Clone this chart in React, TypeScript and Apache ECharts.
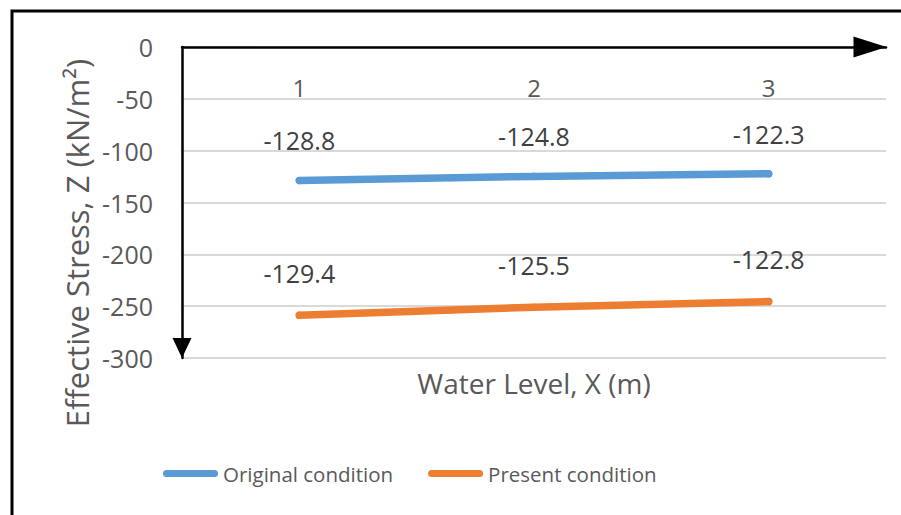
import React, { useEffect, useRef } from "react";
import * as echarts from "echarts";

const categories = ["1", "2", "3"];
const originalValues = [-128.8, -124.8, -122.3];
const presentLabels = [-129.4, -125.5, -122.8];
const presentPlotted = [-258.8, -251.0, -245.6];
const yMin = -300;
const yMax = 0;
const yInterval = 50;
const xTitle = "Water Level, X (m)";
const yTitle = "Effective Stress, Z (kN/m²)";

const FONT = "Open Sans";
const GREY = "#595959";
const DARK = "#404040";

export default function App() {
  const ref = useRef<HTMLDivElement>(null);
  useEffect(() => {
    if (!ref.current) return;
    const chart = echarts.init(ref.current, null, { renderer: "svg" });
    const capsule =
      "path://M3.5,0 H51.5 A3.5,3.5 0 0 1 51.5,7 H3.5 A3.5,3.5 0 0 1 3.5,0 Z";
    chart.setOption({
      animation: false,
      backgroundColor: "#ffffff",
      textStyle: { fontFamily: FONT },
      grid: { left: 182, top: 47, right: 15, bottom: 157 },
      legend: {
        left: 163,
        top: 463,
        padding: 0,
        itemWidth: 55,
        itemHeight: 7,
        itemGap: 35,
        textStyle: { fontFamily: FONT, fontSize: 20.5, color: GREY },
        data: [
          { name: "Original condition", icon: capsule },
          { name: "Present condition", icon: capsule },
        ],
      },
      graphic: [
        {
          type: "rect",
          shape: { x: 12, y: 11, width: 1000, height: 700 },
          style: { fill: "none", stroke: "#000", lineWidth: 3 },
          silent: true,
        },
        {
          type: "text",
          x: 77,
          y: 243,
          rotation: Math.PI / 2,
          silent: true,
          style: {
            text: yTitle,
            fontFamily: FONT,
            fontSize: 31,
            fill: GREY,
            align: "center",
            verticalAlign: "middle",
          },
        },
      ],
      xAxis: [
        {
          type: "category",
          data: categories,
          position: "top",
          boundaryGap: true,
          axisLine: {
            show: true,
            lineStyle: { color: "#000", width: 2.5 },
            symbol: ["none", "triangle"],
            symbolSize: [21, 33],
            symbolOffset: [0, -16],
          },
          axisTick: { show: false },
          axisLabel: {
            inside: true,
            margin: 28,
            fontFamily: FONT,
            fontSize: 24,
            color: GREY,
          },
          splitLine: { show: false },
        },
        {
          type: "category",
          data: categories,
          position: "bottom",
          axisLine: { show: false },
          axisTick: { show: false },
          axisLabel: { show: false },
          splitLine: { show: false },
          name: xTitle,
          nameLocation: "middle",
          nameGap: 11,
          nameTextStyle: { fontFamily: FONT, fontSize: 28, color: GREY },
        },
      ],
      yAxis: {
        type: "value",
        min: yMin,
        max: yMax,
        interval: yInterval,
        axisLine: {
          show: true,
          lineStyle: { color: "#000", width: 2.5 },
          symbol: ["triangle", "none"],
          symbolSize: [19, 20],
          symbolOffset: [10, 0],
        },
        axisTick: { show: false },
        axisLabel: {
          margin: 29,
          fontFamily: FONT,
          fontSize: 25,
          color: GREY,
        },
        splitLine: { show: true, lineStyle: { color: "#d9d9d9", width: 2 } },
      },
      series: [
        {
          name: "Original condition",
          type: "line",
          data: originalValues,
          color: "#5B9BD5",
          symbol: "circle",
          symbolSize: 7.5,
          lineStyle: { width: 7.5, cap: "round" },
          label: {
            show: true,
            position: "top",
            distance: 24,
            fontFamily: FONT,
            fontSize: 25,
            color: DARK,
          },
        },
        {
          name: "Present condition",
          type: "line",
          data: presentPlotted,
          color: "#ED7D31",
          symbol: "circle",
          symbolSize: 7.5,
          lineStyle: { width: 7.5, cap: "round" },
          label: {
            show: true,
            position: "top",
            distance: 26,
            fontFamily: FONT,
            fontSize: 25,
            color: DARK,
            formatter: (p: any) => String(presentLabels[p.dataIndex]),
          },
        },
      ],
    });
    return () => chart.dispose();
  }, []);
  return (
    <div
      ref={ref}
      style={{ position: "fixed", left: 0, top: 0, width: 901, height: 515 }}
    />
  );
}
